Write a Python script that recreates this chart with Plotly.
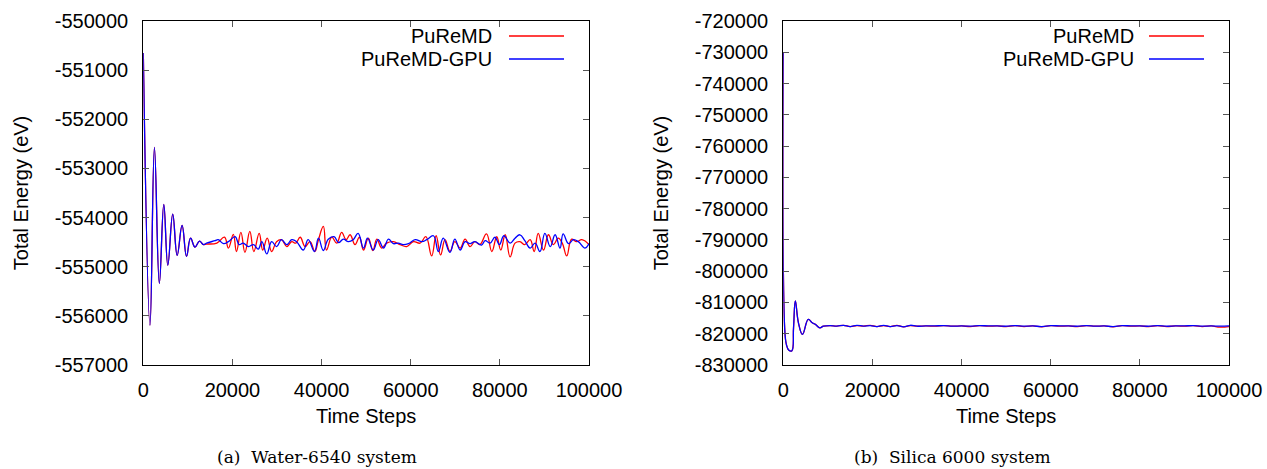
import plotly.graph_objects as go

# ---------------- data: Water-6540 system ----------------
water_common_steps = [0, 1500, 2500, 3600, 4600, 5500, 6600, 7600, 8700, 9700,
                      10600, 11600, 12600, 13500]
water_common_energy = [-550650, -556190, -552570, -555340, -553730, -554970, -553930,
                       -554770, -554160, -554790, -554420, -554600, -554480, -554550]

water_red_steps = [14200, 16500, 18200, 19100, 20200, 20900, 21900, 22800, 23900, 24800,
                   26000, 26800, 27800, 28800, 29900, 31000, 32200, 33300, 34200, 35200,
                   36300, 37400, 38500, 39300, 40400, 41100, 42300, 43400, 44500, 45500,
                   46400, 47500, 48500, 49400, 50500, 51500, 52400, 53500, 54600, 56100,
                   57600, 59100, 60600, 62100, 63400, 64700, 65700, 66700, 67700, 68800,
                   69900, 71100, 72200, 73300, 74400, 75500, 77000, 78200, 79300, 80200,
                   81200, 82300, 83400, 84500, 85600, 86800, 87700, 88600, 89800, 90900,
                   92000, 93100, 94000, 95000, 96100, 97200, 98400, 100000]
water_red_energy = [-554540, -554520, -554400, -554620, -554340, -554690, -554300, -554710,
                    -554280, -554690, -554320, -554660, -554420, -554690, -554490, -554450,
                    -554590, -554490, -554520, -554400, -554590, -554490, -554690, -554450,
                    -554180, -554660, -554400, -554520, -554300, -554450, -554350, -554550,
                    -554400, -554660, -554420, -554670, -554440, -554620, -554520, -554490,
                    -554550, -554590, -554490, -554520, -554390, -554780, -554370, -554760,
                    -554450, -554690, -554490, -554620, -554440, -554590, -554490, -554550,
                    -554330, -554690, -554390, -554660, -554350, -554800, -554520, -554490,
                    -554550, -554450, -554690, -554320, -554660, -554350, -554550, -554420,
                    -554520, -554780, -554440, -554490, -554450, -554550]

water_blue_steps = [14200, 16100, 16800, 18000, 19100, 20600, 21500, 22400, 23600, 24700,
                    25800, 26600, 27700, 28800, 29900, 31000, 32200, 33300, 34400, 35900,
                    37000, 38400, 39300, 40400, 41500, 42800, 43800, 44900, 46000, 47100,
                    48200, 49400, 50300, 51600, 52700, 53900, 55000, 56100, 57200, 58300,
                    59500, 61000, 62500, 63600, 65100, 66200, 67300, 68800, 69900, 71100,
                    72200, 73300, 74400, 75900, 76700, 77800, 78900, 79900, 80900, 82300,
                    83400, 84500, 85600, 86800, 87900, 89000, 90100, 91300, 92400, 93500,
                    94200, 95400, 96500, 97600, 99100, 100000]
water_blue_energy = [-554520, -554470, -554450, -554530, -554490, -554390, -554550, -554520,
                     -554590, -554550, -554640, -554490, -554740, -554490, -554590, -554450,
                     -554550, -554450, -554490, -554660, -554450, -554690, -554420, -554670,
                     -554440, -554390, -554510, -554440, -554490, -554450, -554320, -554620,
                     -554420, -554660, -554450, -554620, -554440, -554530, -554520, -554550,
                     -554530, -554450, -554490, -554450, -554370, -554690, -554420, -554710,
                     -554440, -554660, -554490, -554530, -554490, -554560, -554470, -554520,
                     -554400, -554550, -554370, -554520, -554420, -554350, -554470, -554620,
                     -554520, -554690, -554320, -554590, -554350, -554620, -554330, -554530,
                     -554450, -554490, -554620, -554530]

# ---------------- data: Silica 6000 system ----------------
silica_common_steps = [0, 300, 700, 1200, 1900, 2300, 2700, 3400, 4300, 5600, 6500, 7200,
                       8200, 9000]
silica_common_energy = [-730200, -818000, -823500, -825200, -825500, -818000, -809500,
                        -816500, -820200, -815400, -816500, -817000, -818100, -817600]

silica_red_steps = [10500, 12000, 13500, 15000, 16500, 18000, 19500, 21000, 22500, 24000,
                    25500, 27000, 28500, 30000, 32000, 34000, 36000, 38000, 40000, 42000,
                    44000, 46000, 48000, 50000, 52000, 54000, 56000, 58000, 60000, 62000,
                    64000, 66000, 68000, 70000, 72000, 74000, 76000, 78000, 80000, 82000,
                    84000, 86000, 88000, 90000, 92000, 94000, 96000, 98000, 100000]
silica_red_energy = [-817400, -817600, -817300, -817700, -817400, -817600, -817300, -817700,
                     -817400, -817700, -817300, -817800, -817400, -817600, -817500, -817600,
                     -817400, -817600, -817500, -817700, -817400, -817600, -817500, -817700,
                     -817400, -817700, -817500, -817800, -817400, -817600, -817500, -817700,
                     -817400, -817600, -817500, -817800, -817400, -817600, -817500, -817700,
                     -817400, -817700, -817500, -817600, -817400, -817700, -817500, -817900,
                     -817700]

silica_blue_steps = [10500, 12000, 13500, 15000, 16500, 18000, 19500, 21000, 22500, 24000,
                     25500, 27000, 28500, 30000, 32000, 34000, 36000, 38000, 40000, 42000,
                     44000, 46000, 48000, 50000, 52000, 54000, 56000, 58000, 60000, 62000,
                     64000, 66000, 68000, 70000, 72000, 74000, 76000, 78000, 80000, 82000,
                     84000, 86000, 88000, 90000, 92000, 94000, 96000, 98000, 100000]
silica_blue_energy = [-817400, -817600, -817300, -817700, -817300, -817600, -817400, -817700,
                      -817300, -817700, -817400, -817800, -817300, -817600, -817500, -817500,
                      -817400, -817600, -817500, -817600, -817400, -817500, -817500, -817600,
                      -817400, -817600, -817500, -817700, -817400, -817500, -817500, -817600,
                      -817400, -817600, -817500, -817700, -817400, -817500, -817500, -817600,
                      -817400, -817600, -817500, -817500, -817400, -817600, -817500, -817600,
                      -817500]

x_ticks = [0, 20000, 40000, 60000, 80000, 100000]
water_y_ticks = [-557000, -556000, -555000, -554000, -553000, -552000, -551000, -550000]
silica_y_ticks = [-830000, -820000, -810000, -800000, -790000, -780000, -770000, -760000,
                  -750000, -740000, -730000, -720000]
series_names = ["PuReMD", "PuReMD-GPU"]
captions = ["(a)  Water-6540 system", "(b)  Silica 6000 system"]

RED = "#ff0000"
BLUE = "#0000ff"
W, H = 1267, 469

fig = go.Figure()

def add(xs, ys, color, xa, ya):
    fig.add_trace(go.Scatter(x=xs, y=ys, mode="lines", xaxis=xa, yaxis=ya,
                             line=dict(color=color, width=1.3, shape="spline", smoothing=1.2),
                             showlegend=False, hoverinfo="skip"))

add(water_common_steps + water_red_steps, water_common_energy + water_red_energy, RED, "x", "y")
add(water_common_steps + water_blue_steps, water_common_energy + water_blue_energy, BLUE, "x", "y")
add(silica_common_steps + silica_red_steps, silica_common_energy + silica_red_energy, RED, "x2", "y2")
add(silica_common_steps + silica_blue_steps, silica_common_energy + silica_blue_energy, BLUE, "x2", "y2")

font = dict(family="Liberation Sans, Arial, sans-serif", size=20, color="#000")

def xax(domain, anchor):
    return dict(domain=domain, anchor=anchor, range=[0, 100000], tickvals=x_ticks,
                ticktext=[str(v) for v in x_ticks], ticks="inside", ticklen=6,
                tickcolor="#555", tickwidth=1, showline=True, linecolor="#000",
                linewidth=1.2, mirror="allticks", showgrid=False, zeroline=False,
                tickfont=font, automargin=False, ticklabelstandoff=7,
                title=dict(text="Time Steps", font=font, standoff=8))

def yax(domain, anchor, rng, ticks):
    return dict(domain=domain, anchor=anchor, range=rng, tickvals=ticks,
                ticktext=[str(v) for v in ticks], ticks="inside", ticklen=6,
                tickcolor="#555", tickwidth=1, showline=True, linecolor="#000",
                linewidth=1.2, mirror="allticks", showgrid=False, zeroline=False,
                tickfont=font, automargin=False, ticklabelstandoff=10,
                title=dict(text="Total Energy (eV)", font=font, standoff=20))

ydom = [1 - 365 / H, 1 - 21 / H]
fig.update_layout(
    width=W, height=H, margin=dict(l=0, r=0, t=0, b=0),
    paper_bgcolor="white", plot_bgcolor="white", template="none",
    xaxis=xax([143.3 / W, 589 / W], "y"),
    yaxis=yax(ydom, "x", [-557000, -550000], water_y_ticks),
    xaxis2=xax([783.3 / W, 1229 / W], "y2"),
    yaxis2=yax(ydom, "x2", [-830000, -720000], silica_y_ticks),
)

# gnuplot-style legends (text right-aligned, line sample on the right)
legend_font = dict(family="Liberation Sans, Arial, sans-serif", size=20, color="#000")
for (txt_right, line_l, line_r) in [(494, 509, 564), (1136, 1149, 1204)]:
    for i, (name, col) in enumerate(zip(series_names, [RED, BLUE])):
        yc = 36 + i * 23
        fig.add_annotation(x=txt_right / W, y=1 - yc / H, xref="paper", yref="paper",
                           text=name, showarrow=False, xanchor="right", yanchor="middle",
                           font=legend_font)
        fig.add_shape(type="line", xref="paper", yref="paper",
                      x0=line_l / W, x1=line_r / W, y0=1 - yc / H, y1=1 - yc / H,
                      line=dict(color=col, width=1.3))

# captions
cap_font = dict(family="DejaVu Serif, Liberation Serif, serif", size=17, color="#000")
for cx, cap in zip([317, 952], captions):
    fig.add_annotation(x=cx / W, y=0, xref="paper", yref="paper", text=cap,
                       showarrow=False, xanchor="center", yanchor="bottom", yshift=1,
                       borderpad=0, font=cap_font)

fig.write_html("out.html")
